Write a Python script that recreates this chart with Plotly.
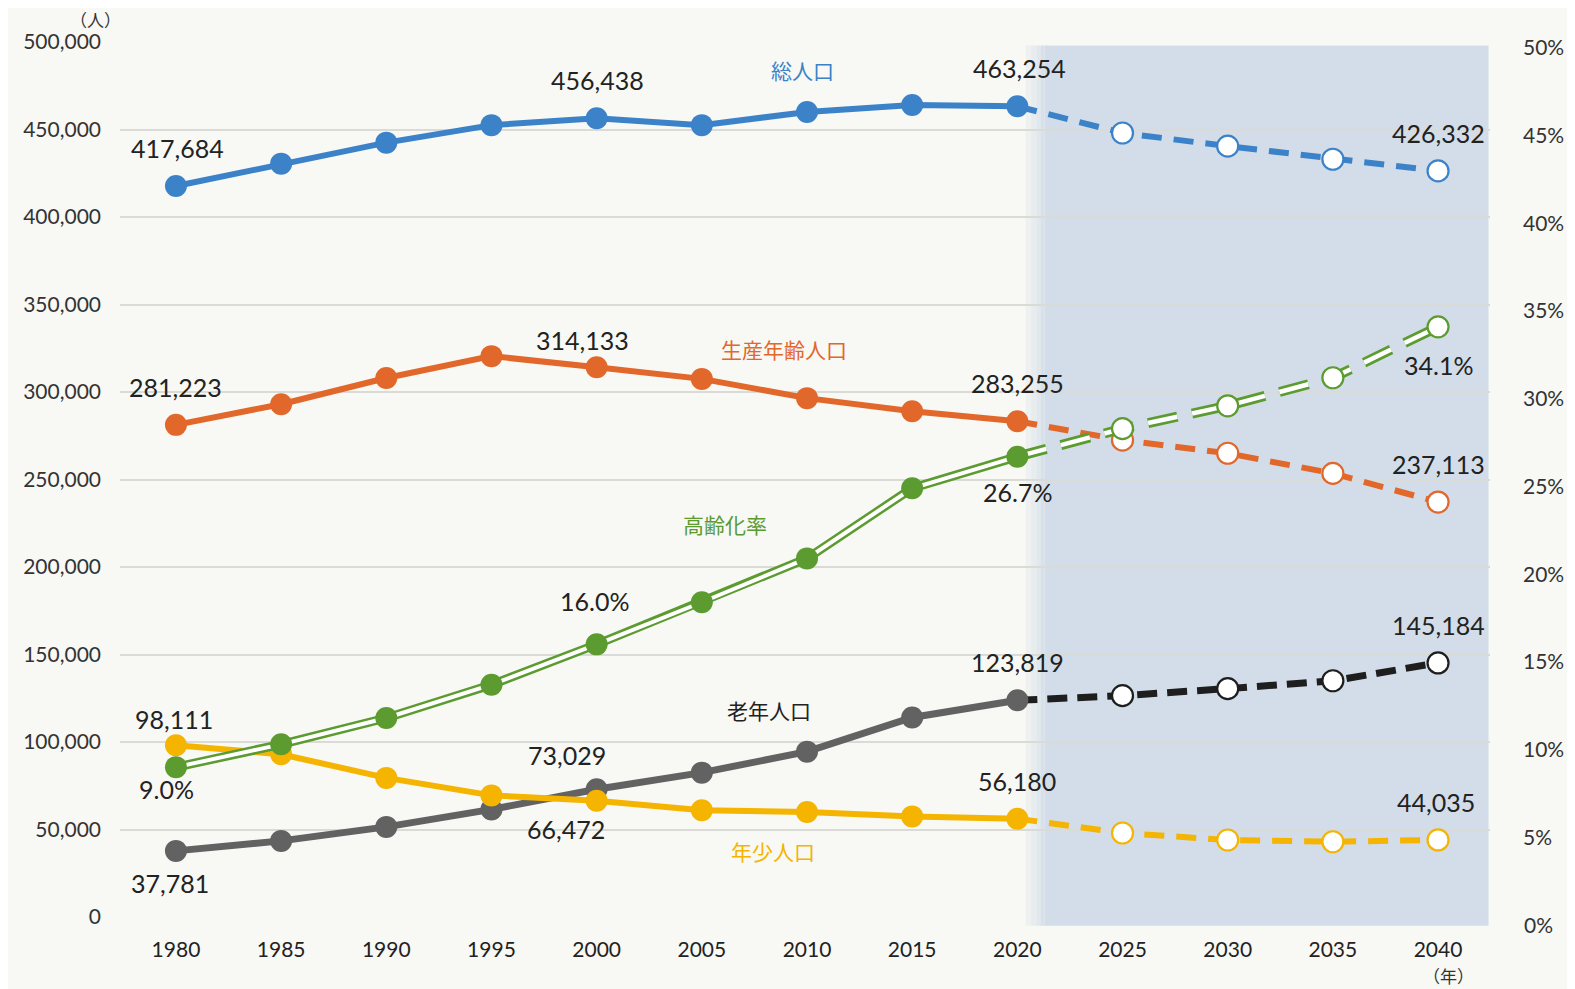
import plotly.graph_objects as go

years = [1980, 1985, 1990, 1995, 2000, 2005, 2010, 2015, 2020, 2025, 2030, 2035, 2040]
total = [417684, 430500, 442500, 452500, 456438, 452500, 460000, 464000, 463254, 448000, 440500, 433000, 426332]
working = [281223, 293000, 308000, 320500, 314133, 307500, 296500, 289000, 283255, 272500, 265000, 253500, 237113]
elderly = [37781, 43500, 51500, 61500, 73029, 82500, 94500, 114000, 123819, 126500, 130500, 135000, 145184]
young = [98111, 93000, 79500, 69500, 66472, 61000, 60000, 57500, 56180, 48000, 44000, 43000, 44035]
aging = [9.0, 10.3, 11.8, 13.7, 16.0, 18.4, 20.9, 24.9, 26.7, 28.3, 29.6, 31.2, 34.1]

left_ticks = [0, 50000, 100000, 150000, 200000, 250000, 300000, 350000, 400000, 450000, 500000]
right_ticks = [0, 5, 10, 15, 20, 25, 30, 35, 40, 45, 50]

series_names = ["総人口", "生産年齢人口", "高齢化率", "老年人口", "年少人口"]

FONT = "Lato, 'Noto Sans CJK JP', sans-serif"
JP = "'Noto Sans CJK JP', sans-serif"
BLUE = "#3b82c9"
ORANGE = "#e2672a"
GREEN = "#5b9b2f"
GRAY = "#626262"
DARK = "#1e1e1e"
YELLOW = "#f4b400"
SHADE = "#d2dde9"

Y2_RANGE = [0.00456, 0.5034]

split = years.index(2020)
past = slice(0, split + 1)
fut = slice(split, len(years))
fut_pts = slice(split + 1, len(years))

fig = go.Figure()


def add_series(vals, color, dark_color=None, width=6, dash="20px,12px", yaxis="y"):
    dc = dark_color or color
    fig.add_trace(go.Scatter(
        x=years[fut], y=vals[fut], mode="lines", yaxis=yaxis,
        line=dict(color=dc, width=width, dash=dash),
        showlegend=False, hoverinfo="skip"))
    fig.add_trace(go.Scatter(
        x=years[fut_pts], y=vals[fut_pts], mode="markers", yaxis=yaxis,
        marker=dict(size=21, color="white", opacity=1, line=dict(color=dc, width=2.2)),
        showlegend=False, hoverinfo="skip"))
    fig.add_trace(go.Scatter(
        x=years[past], y=vals[past], mode="lines+markers", yaxis=yaxis,
        line=dict(color=color, width=width),
        marker=dict(size=22, color=color),
        showlegend=False, hoverinfo="skip"))


add_series(total, BLUE)
add_series(working, ORANGE)
add_series(elderly, GRAY, dark_color=DARK, width=7, dash="20px,10px")
add_series(young, YELLOW)

# aging rate (double line) on secondary axis
aging_frac = [a / 100 for a in aging]
fig.add_trace(go.Scatter(x=years[fut], y=aging_frac[fut], yaxis="y2", mode="lines",
                         line=dict(color=GREEN, width=10, dash="30px,15px"),
                         showlegend=False, hoverinfo="skip"))
fig.add_trace(go.Scatter(x=years[fut], y=aging_frac[fut], yaxis="y2", mode="lines",
                         line=dict(color="white", width=4.5, dash="30px,15px"),
                         showlegend=False, hoverinfo="skip"))
fig.add_trace(go.Scatter(x=years[fut_pts], y=aging_frac[fut_pts], yaxis="y2", mode="markers",
                         marker=dict(size=21, color="white", line=dict(color=GREEN, width=2.2)),
                         showlegend=False, hoverinfo="skip"))
fig.add_trace(go.Scatter(x=years[past], y=aging_frac[past], yaxis="y2", mode="lines",
                         line=dict(color=GREEN, width=9),
                         showlegend=False, hoverinfo="skip"))
fig.add_trace(go.Scatter(x=years[past], y=aging_frac[past], yaxis="y2", mode="lines+markers",
                         line=dict(color="white", width=4),
                         marker=dict(size=22, color=GREEN),
                         showlegend=False, hoverinfo="skip"))

ann = []


def label(xv, yv, text, dx, dy, yref="y"):
    ann.append(dict(x=xv, y=yv, xref="x", yref=yref, text=text, showarrow=False,
                    xshift=dx, yshift=dy, font=dict(family=FONT, size=25, color="#222")))


def fmt(v):
    return f"{v:,}"


i1980, i2000, i2020, i2040 = 0, years.index(2000), split, len(years) - 1
label(years[i1980], total[i1980], fmt(total[i1980]), 2, 38)
label(years[i2000], total[i2000], fmt(total[i2000]), 1, 38)
label(years[i2020], total[i2020], fmt(total[i2020]), 2, 38)
label(years[i2040], total[i2040], fmt(total[i2040]), 0, 38)
label(years[i1980], working[i1980], fmt(working[i1980]), 0, 38)
label(years[i2000], working[i2000], fmt(working[i2000]), -14, 27)
label(years[i2020], working[i2020], fmt(working[i2020]), 0, 38)
label(years[i2040], working[i2040], fmt(working[i2040]), 0, 38)
label(years[i1980], elderly[i1980], fmt(elderly[i1980]), -6, -32)
label(years[i2000], elderly[i2000], fmt(elderly[i2000]), -30, 34)
label(years[i2020], elderly[i2020], fmt(elderly[i2020]), 0, 38)
label(years[i2040], elderly[i2040], fmt(elderly[i2040]), 0, 38)
label(years[i1980], young[i1980], fmt(young[i1980]), -2, 26)
label(years[i2000], young[i2000], fmt(young[i2000]), -31, -28)
label(years[i2020], young[i2020], fmt(young[i2020]), 0, 38)
label(years[i2040], young[i2040], fmt(young[i2040]), -2, 38)
label(years[i1980], aging_frac[i1980], f"{aging[i1980]:.1f}%", -9, -22, "y2")
label(years[i2000], aging_frac[i2000], f"{aging[i2000]:.1f}%", -2, 43, "y2")
label(years[i2020], aging_frac[i2020], f"{aging[i2020]:.1f}%", 0, -35, "y2")
label(years[i2040], aging_frac[i2040], f"{aging[i2040]:.1f}%", 0, -38, "y2")

# series name labels
name_pos = [(2009.8, 484000, BLUE), (2008.9, 324500, ORANGE), (2006.1, 224500, GREEN),
            (2008.2, 118300, "#222"), (2008.4, 37700, YELLOW)]
for nm, (xv, yv, col) in zip(series_names, name_pos):
    ann.append(dict(x=xv, y=yv, xref="x", yref="y", text=nm, showarrow=False,
                    font=dict(family=JP, size=21, color=col)))

ann.append(dict(x=-0.018, y=1 + 23 / 875, xref="paper", yref="paper", text="（人）", showarrow=False,
                xanchor="center", yanchor="middle", font=dict(family=JP, size=17, color="#333")))
ann.append(dict(x=2040.5, y=-0.05, xref="x", yref="paper", text="（年）", showarrow=False,
                yanchor="top", font=dict(family=JP, size=17, color="#333")))

# 0% tick label (falls just below the plotted area of the secondary axis)
zero_paper = (0 - Y2_RANGE[0]) / (Y2_RANGE[1] - Y2_RANGE[0])
ann.append(dict(x=1, y=zero_paper, xref="paper", yref="paper", text=f"{right_ticks[0]}%",
                showarrow=False, xanchor="left", yanchor="middle", xshift=32,
                font=dict(family=FONT, size=21, color="#333")))

# shaded projection area with a soft left edge
shapes = [dict(type="rect", xref="x", yref="paper", x0=2021.3, x1=2042.4, y0=-0.01, y1=0.996,
               fillcolor=SHADE, line=dict(width=0), layer="between")]
edge = [2020.4, 2020.65, 2020.9, 2021.1, 2021.3]
for k in range(len(edge) - 1):
    shapes.append(dict(type="rect", xref="x", yref="paper", x0=edge[k], x1=edge[k + 1],
                       y0=-0.01, y1=0.996, fillcolor=SHADE, opacity=0.25 + 0.2 * k,
                       line=dict(width=0), layer="between"))

fig.update_layout(
    width=1567, height=981,
    paper_bgcolor="#f8f8f4", plot_bgcolor="rgba(0,0,0,0)",
    margin=dict(l=112, r=85, t=34, b=72),
    font=dict(family=FONT, size=21, color="#333"),
    annotations=ann,
    shapes=shapes,
    xaxis=dict(range=[1977.34, 2042.47], tickvals=years, ticktext=[str(y) for y in years],
               showgrid=False, zeroline=False, showline=False, ticks="",
               tickfont=dict(size=21, color="#222"), ticklabelstandoff=18),
    yaxis=dict(range=[0, 500000], tickvals=left_ticks,
               ticktext=[fmt(t) for t in left_ticks],
               showgrid=True, gridcolor="#dadad6", gridwidth=1.5, zeroline=False,
               tickfont=dict(size=21, color="#333"), ticklabelstandoff=18),
    yaxis2=dict(range=Y2_RANGE, overlaying="y", side="right",
                tickvals=[t / 100 for t in right_ticks],
                ticktext=[f"{t}%" for t in right_ticks],
                showgrid=False, zeroline=False,
                tickfont=dict(size=21, color="#333"), ticklabelstandoff=32),
)

fig.write_html("out.html")
